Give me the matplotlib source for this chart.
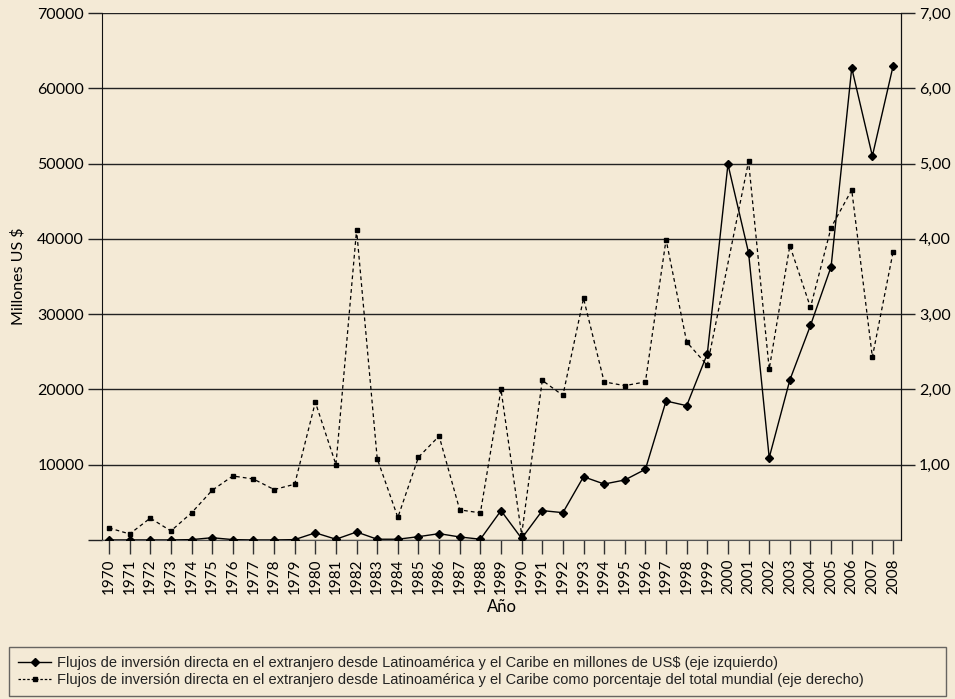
import numpy as np
import matplotlib
matplotlib.use("Agg")
import matplotlib.pyplot as plt
from matplotlib.ticker import FuncFormatter
from matplotlib.lines import Line2D

years = list(range(1970, 2009))
flujos_musd = [0, 0, 0, 0, 50, 300, 50, 0, 0, 50,
               950, 100, 1060, 100, 100, 440, 840, 400, 100, 3900,
               200, 3900, 3630, 8400, 7430, 7970, 9390, 18460, 17840, 24740,
               49900, 38150, 10930, 21250, 28500, 36300, 62700, 51000, 62900]
porcentaje_mundial = [0.16, 0.08, 0.29, 0.12, 0.36, 0.66, 0.85, 0.81, 0.67, 0.74,
                      1.83, 1.00, 4.12, 1.08, 0.30, 1.10, 1.38, 0.40, 0.36, 2.00,
                      0.07, 2.12, 1.92, 3.21, 2.10, 2.05, 2.10, 3.99, 2.63, 2.32,
                      np.nan, 5.03, 2.27, 3.91, 3.09, 4.15, 4.65, 2.43, 3.82]
left_ticks = [0, 10000, 20000, 30000, 40000, 50000, 60000, 70000]
right_ticks = [1, 2, 3, 4, 5, 6, 7]

label_solid = "Flujos de inversión directa en el extranjero desde Latinoamérica y el Caribe en millones de US$ (eje izquierdo)"
label_dash = "Flujos de inversión directa en el extranjero desde Latinoamérica y el Caribe como porcentaje del total mundial (eje derecho)"

bg = "#F4EAD6"
plt.rcParams['font.family'] = ['Lato', 'DejaVu Sans']

fig = plt.figure(figsize=(9.55, 6.99), dpi=100, facecolor=bg)
ax = fig.add_axes([0.1068, 0.2275, 0.9435 - 0.1068, 0.9814 - 0.2275])
ax.set_facecolor(bg)
ax2 = ax.twinx()

x = np.array(years, dtype=float)
ax.plot(x, flujos_musd, color="black", lw=1.0, marker="D", ms=4, zorder=3)
p = np.array(porcentaje_mundial, dtype=float)
m = ~np.isnan(p)
ax2.plot(x[m], p[m], color="black", lw=0.9, ls=(0, (3, 2.5)), marker="s", ms=3.2, zorder=3)

ax.set_xlim(1969.66, 2008.39)
ax.set_ylim(0, 70000)
ax2.set_ylim(0, 7)

ax.set_yticks(left_ticks)
ax.yaxis.set_major_formatter(FuncFormatter(lambda v, pos: f"{int(v)}" if v > 0 else ""))
ax2.set_yticks(right_ticks)
ax2.set_yticklabels([f"{v},00" for v in right_ticks])
ax.set_xticks(years)
ax.set_xticklabels([str(y) for y in years], rotation=90, fontsize=11)

for a in (ax, ax2):
    a.tick_params(axis="y", length=10, width=1, color="#222", labelsize=11.5, pad=3)
ax.tick_params(axis="x", length=10, width=1, color="#333", pad=3)

ax.grid(axis="y", color="#222", lw=1.0)
ax.set_axisbelow(True)
ax.spines["top"].set_visible(False)
ax2.spines["top"].set_visible(False)
ax.spines["left"].set_color("#111")
ax2.spines["right"].set_color("#111")
ax.spines["bottom"].set_color("#555")
ax2.spines["left"].set_visible(False)
ax2.spines["bottom"].set_visible(False)

ax.set_xlabel("Año", fontsize=12, labelpad=4)
ax.set_ylabel("Millones US $", fontsize=11.5, labelpad=8)

h1 = Line2D([], [], color="black", lw=1.0, marker="D", ms=4)
h2 = Line2D([], [], color="black", lw=0.9, ls=(0, (2, 1.5)), marker="s", ms=3.2)
leg = fig.legend([h1, h2], [label_solid, label_dash], loc="lower left",
                 bbox_to_anchor=(0.005, -0.002, 0.99, 0.087), mode="expand",
                 frameon=True, fancybox=False, edgecolor="#444", facecolor=bg,
                 handlelength=2.3, handletextpad=0.35, labelspacing=0.25,
                 borderpad=0.6, borderaxespad=0.3,
                 prop={'family': ['Liberation Sans Narrow', 'Liberation Sans'], 'size': 10.5})
leg.get_frame().set_linewidth(1.0)
for t in leg.get_texts():
    t.set_color("#222")

fig.savefig("out.png", dpi=100, facecolor=bg)
